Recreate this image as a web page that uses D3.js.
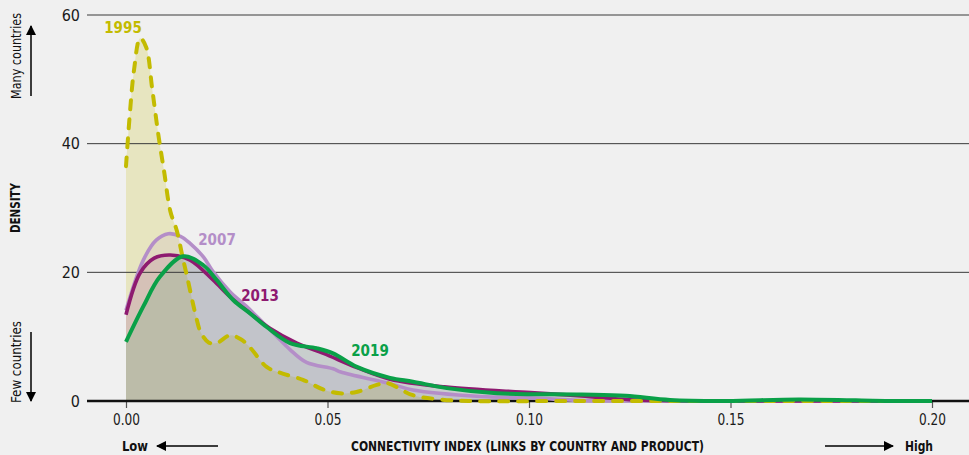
<!DOCTYPE html>
<html>
<head>
<meta charset="utf-8">
<script src="https://cdn.jsdelivr.net/npm/d3@7"></script>
<style>
  html, body { margin: 0; padding: 0; background: #f0f0f0; }
  svg { display: block; }
  text { font-family: "Liberation Sans Narrow", "DejaVu Sans Condensed", "Roboto", sans-serif; font-stretch: condensed; }
</style>
</head>
<body>
<svg id="chart" width="969" height="455"></svg>
<script>
// ---- data ----
const yTicks = [0, 20, 40, 60];
const xTicks = [0, 0.05, 0.10, 0.15, 0.20];
const xTickLabels = ["0.00", "0.05", "0.10", "0.15", "0.20"];
const seriesNames = ["1995", "2007", "2013", "2019"];

const x1995 = [0, 0.001, 0.002, 0.0035, 0.005, 0.0065, 0.008, 0.0095, 0.011, 0.0126, 0.014, 0.0151, 0.0175, 0.0186, 0.0205, 0.0225, 0.0258, 0.0285, 0.0308, 0.0349, 0.0382, 0.0439, 0.0489, 0.0531, 0.0572, 0.0622, 0.0647, 0.0712, 0.0779, 0.085, 0.11, 0.15, 0.2];
const y1995 = [36.5, 45, 51.5, 56.4, 55, 48.5, 41.5, 35.5, 29.5, 26.5, 22.5, 19.5, 12.8, 10.6, 9.1, 9.0, 10.2, 9.6, 8.3, 5.3, 4.4, 3.3, 1.8, 1.2, 1.4, 2.5, 2.8, 0.9, 0.25, 0.0, 0.0, 0.0, 0.0];

const x2007 = [0, 0.0043, 0.0075, 0.0105, 0.0135, 0.0159, 0.0192, 0.0216, 0.0258, 0.0299, 0.0341, 0.0375, 0.0407, 0.0448, 0.0514, 0.0533, 0.0655, 0.0712, 0.088, 0.100, 0.112, 0.12, 0.15, 0.2];
const y2007 = [14.1, 21.9, 25.0, 26.0, 25.6, 24.5, 22.4, 20.1, 17.0, 14.7, 12.1, 10.0, 8.0, 6.0, 5.0, 4.5, 2.7, 1.7, 0.7, 0.5, 0.1, 0.0, 0.0, 0.0];

const x2013 = [0, 0.0035, 0.007, 0.011, 0.0159, 0.0216, 0.0258, 0.0299, 0.0357, 0.0424, 0.049, 0.0573, 0.0655, 0.079, 0.1004, 0.113, 0.125, 0.135, 0.15, 0.2];
const y2013 = [13.4, 19.9, 22.2, 22.7, 21.9, 18.8, 16.2, 14.1, 11.3, 9.0, 7.4, 5.2, 3.4, 2.2, 1.3, 0.8, 0.2, 0.05, 0.0, 0.0];

const x2019 = [0, 0.0043, 0.0084, 0.0142, 0.0192, 0.0225, 0.0266, 0.0308, 0.0349, 0.0407, 0.0473, 0.0514, 0.0573, 0.0655, 0.0712, 0.0796, 0.092, 0.113, 0.124, 0.135, 0.149, 0.167, 0.19, 0.2];
const y2019 = [9.2, 14.7, 19.3, 22.5, 21.1, 18.8, 15.7, 13.6, 11.5, 9.0, 8.2, 7.4, 5.3, 3.6, 3.0, 2.0, 1.2, 1.0, 0.8, 0.15, 0.0, 0.25, 0.0, 0.0];

const seriesX = [x1995, x2007, x2013, x2019];
const seriesY = [y1995, y2007, y2013, y2019];

// ---- styles ----
const colors = ["#c3bb00", "#b48ec8", "#8e1a70", "#0aa048"];
const fillOpacity = [0.2, 0.13, 0.12, 0.12];
const labelPos = [[123, 33], [217, 245], [260, 301], [370, 356]];

const svg = d3.select("#chart");
const x = d3.scaleLinear().domain([0, 0.2]).range([126, 932]);
const y = d3.scaleLinear().domain([0, 60]).range([401, 15]);

const data = seriesX.map((xs, i) => xs.map((v, j) => ({ x: v, y: seriesY[i][j] })));

const curve = d3.curveCatmullRom.alpha(0.5);
const area = d3.area().x(d => x(d.x)).y0(y(0)).y1(d => y(d.y)).curve(curve);
const line = d3.line().x(d => x(d.x)).y(d => y(d.y)).curve(curve);

// fills
svg.append("g").selectAll("path").data(data).join("path")
  .attr("d", area)
  .attr("fill", (d, i) => colors[i])
  .attr("fill-opacity", (d, i) => fillOpacity[i]);

// gridlines
svg.append("g").selectAll("line").data(yTicks.filter(t => t > 0)).join("line")
  .attr("x1", 87).attr("x2", 969)
  .attr("y1", d => y(d)).attr("y2", d => y(d))
  .attr("stroke", "#3a3a3a").attr("stroke-width", 1);

// y tick labels
svg.append("g").selectAll("text").data(yTicks).join("text")
  .attr("x", 80).attr("y", d => y(d)).attr("dy", "0.36em")
  .attr("text-anchor", "end").attr("font-size", 16).attr("fill", "#1a1a1a")
  .text(d => d);

// x axis
const xAxis = d3.axisBottom(x).tickValues(xTicks).tickFormat((d, i) => xTickLabels[i]).tickSize(7).tickPadding(6);
const gx = svg.append("g").attr("transform", "translate(0,401)").call(xAxis);
gx.select(".domain").remove();
gx.selectAll(".tick line").attr("stroke", "#555").attr("stroke-width", 1.2);
gx.selectAll(".tick text").attr("font-size", 16).attr("fill", "#1a1a1a")
  .attr("textLength", 27).attr("lengthAdjust", "spacingAndGlyphs")
  .style("font-family", "'Liberation Sans Narrow','DejaVu Sans Condensed',sans-serif");

// baseline
svg.append("line").attr("x1", 87).attr("x2", 969).attr("y1", y(0)).attr("y2", y(0))
  .attr("stroke", "#111").attr("stroke-width", 2.5);

// lines (order: 2007, 2013, 1995, 2019)
[1, 2, 0, 3].forEach(i => {
  svg.append("path").datum(data[i])
    .attr("d", line)
    .attr("fill", "none")
    .attr("stroke", colors[i])
    .attr("stroke-width", i === 0 ? 4 : (i === 3 ? 4 : 3.6))
    .attr("stroke-linecap", i === 0 ? "round" : "butt")
    .attr("stroke-dasharray", i === 0 ? "9,10" : null);
});

// series labels
svg.append("g").selectAll("text").data(seriesNames).join("text")
  .attr("x", (d, i) => labelPos[i][0]).attr("y", (d, i) => labelPos[i][1])
  .attr("text-anchor", "middle").attr("font-size", 15).attr("font-weight", "bold")
  .attr("fill", (d, i) => colors[i])
  .text(d => d);

// arrow marker
const defs = svg.append("defs");
defs.append("marker").attr("id", "arr").attr("viewBox", "0 0 10 10")
  .attr("refX", 9).attr("refY", 5).attr("markerWidth", 10).attr("markerHeight", 10)
  .attr("markerUnits", "userSpaceOnUse").attr("orient", "auto")
  .append("path").attr("d", "M0,0 L10,5 L0,10 Z").attr("fill", "#000");

function arrow(x1, y1, x2, y2) {
  svg.append("line").attr("x1", x1).attr("y1", y1).attr("x2", x2).attr("y2", y2)
    .attr("stroke", "#000").attr("stroke-width", 1.5).attr("marker-end", "url(#arr)");
}

// left annotations
function vtext(t, cx, cy, bold, len) {
  svg.append("text").attr("transform", `translate(${cx},${cy}) rotate(-90)`)
    .attr("text-anchor", "middle").attr("dy", "0.35em").attr("font-size", 14)
    .attr("font-weight", bold ? "bold" : "normal").attr("fill", "#111")
    .attr("textLength", len).attr("lengthAdjust", "spacingAndGlyphs")
    .text(t);
}
vtext("Many countries", 16, 56, false, 86);
vtext("DENSITY", 15, 208, true, 50);
vtext("Few countries", 16, 362, false, 82);
arrow(31, 96, 31, 26);
arrow(31, 332, 31, 401);

// bottom annotations
svg.append("text").attr("x", 122).attr("y", 451).attr("font-size", 14).attr("font-weight", "bold")
  .attr("fill", "#111").attr("textLength", 26).attr("lengthAdjust", "spacingAndGlyphs").text("Low");
arrow(218, 446, 157, 446);
svg.append("text").attr("x", 351).attr("y", 451).attr("font-size", 14).attr("font-weight", "bold")
  .attr("fill", "#111").attr("textLength", 353).attr("lengthAdjust", "spacingAndGlyphs")
  .text("CONNECTIVITY INDEX (LINKS BY COUNTRY AND PRODUCT)");
arrow(825, 446, 893, 446);
svg.append("text").attr("x", 905).attr("y", 451).attr("font-size", 14).attr("font-weight", "bold")
  .attr("fill", "#111").attr("textLength", 28).attr("lengthAdjust", "spacingAndGlyphs").text("High");
</script>
</body>
</html>
